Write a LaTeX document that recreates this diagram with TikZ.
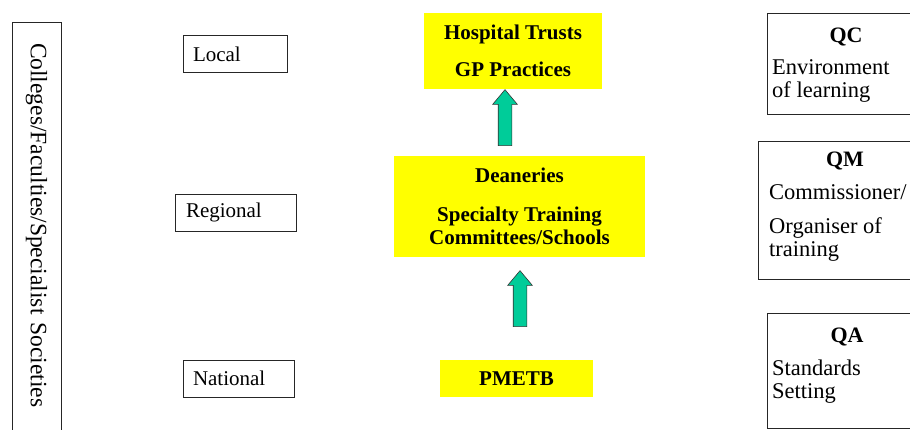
\documentclass[tikz,border=0pt]{standalone}
\usepackage{fontspec}
\setmainfont{Liberation Serif}
\usetikzlibrary{calc, shapes.arrows}
\definecolor{boxyellow}{RGB}{255,255,0}
\definecolor{arrowgreen}{RGB}{0,204,153}

\begin{document}
\begin{tikzpicture}[
		x = 1pt, y = -1pt,
		every node/.style = {font = \fontsize{21}{23}\selectfont},
		level/.style = {draw = black!85, line width = 0.8pt, minimum height = 37pt, align = left},
		body/.style = {fill = boxyellow, inner sep = 0pt, align = center, font = \fontsize{21}{23.5}\selectfont\bfseries},
		role/.style = {draw = black!85, line width = 0.8pt, inner sep = 0pt},
		rolehead/.style = {anchor = base, font = \fontsize{22}{23}\selectfont\bfseries},
		roletext/.style = {anchor = north west, inner sep = 0pt, align = left, font = \fontsize{22.5}{23}\selectfont},
		uparrow/.style = {single arrow, rotate = 90, draw = black!80, fill = arrowgreen, line width = 0.6pt,
			inner xsep = 0pt, inner ysep = 6.5pt, minimum height = 56pt,
			single arrow head extend = 5.5pt, single arrow tip angle = 80, anchor = tip}
		]
		\useasboundingbox (0,0) rectangle (910,429);
		
		% side bar
		\node[level, rotate = -90, minimum width = 440pt, minimum height = 49pt, inner xsep = 21pt,
			text width = 398pt, font = \fontsize{23.5}{25}\selectfont] (Colleges) at (36.5,242)
			{Colleges/Faculties/Specialist Societies};
		
		% levels
		\node[level, inner xsep = 10pt, text width = 84pt] (Local)    at (235,54)      {Local};
		\node[level, inner xsep = 11pt, text width = 99pt] (Regional) at (235.5,212.5) {Regional};
		\node[level, inner xsep = 10pt, text width = 91pt] (National) at (238.5,378.5) {National};
		
		% bodies
		\node[body, minimum width = 178pt, minimum height = 76pt]  (Trusts)    at (513,51)      {Hospital Trusts\\[13.5pt]GP Practices};
		\node[body, minimum width = 251pt, minimum height = 101pt] (Deaneries) at (519.5,206.5) {Deaneries\\[15.5pt]Specialty Training\\Committees/Schools};
		\node[body, minimum width = 153pt, minimum height = 37pt]  (PMETB)     at (516.5,378.5) {PMETB};
		
		% arrows
		\node[uparrow] (UpLocal)    at ([xshift = -8pt]Trusts.south) {};
		\node[uparrow] (UpRegional) at ([xshift = 0.5pt, yshift = -13pt]Deaneries.south) {};
		
		% quality roles
		\node[role, minimum width = 170pt, minimum height = 101pt] (QC) at (852,63.5) {};
		\node[rolehead] (QCHead) at (846,42)      {QC};
		\node[roletext] (QCText) at (772,59.6)    {Environment\\of learning};
		
		\node[role, minimum width = 179pt, minimum height = 138pt] (QM) at (847.5,210.5) {};
		\node[rolehead] (QMHead) at (845,166)     {QM};
		\node[roletext] (QMText) at (769,184.6)   {Commissioner/\\[11pt]Organiser of\\training};
		
		\node[role, minimum width = 170pt, minimum height = 115pt] (QA) at (852,370.5) {};
		\node[rolehead] (QAHead) at (847,342)     {QA};
		\node[roletext] (QAText) at (772,359.6)   {Standards\\Setting};
\end{tikzpicture}
\end{document}
